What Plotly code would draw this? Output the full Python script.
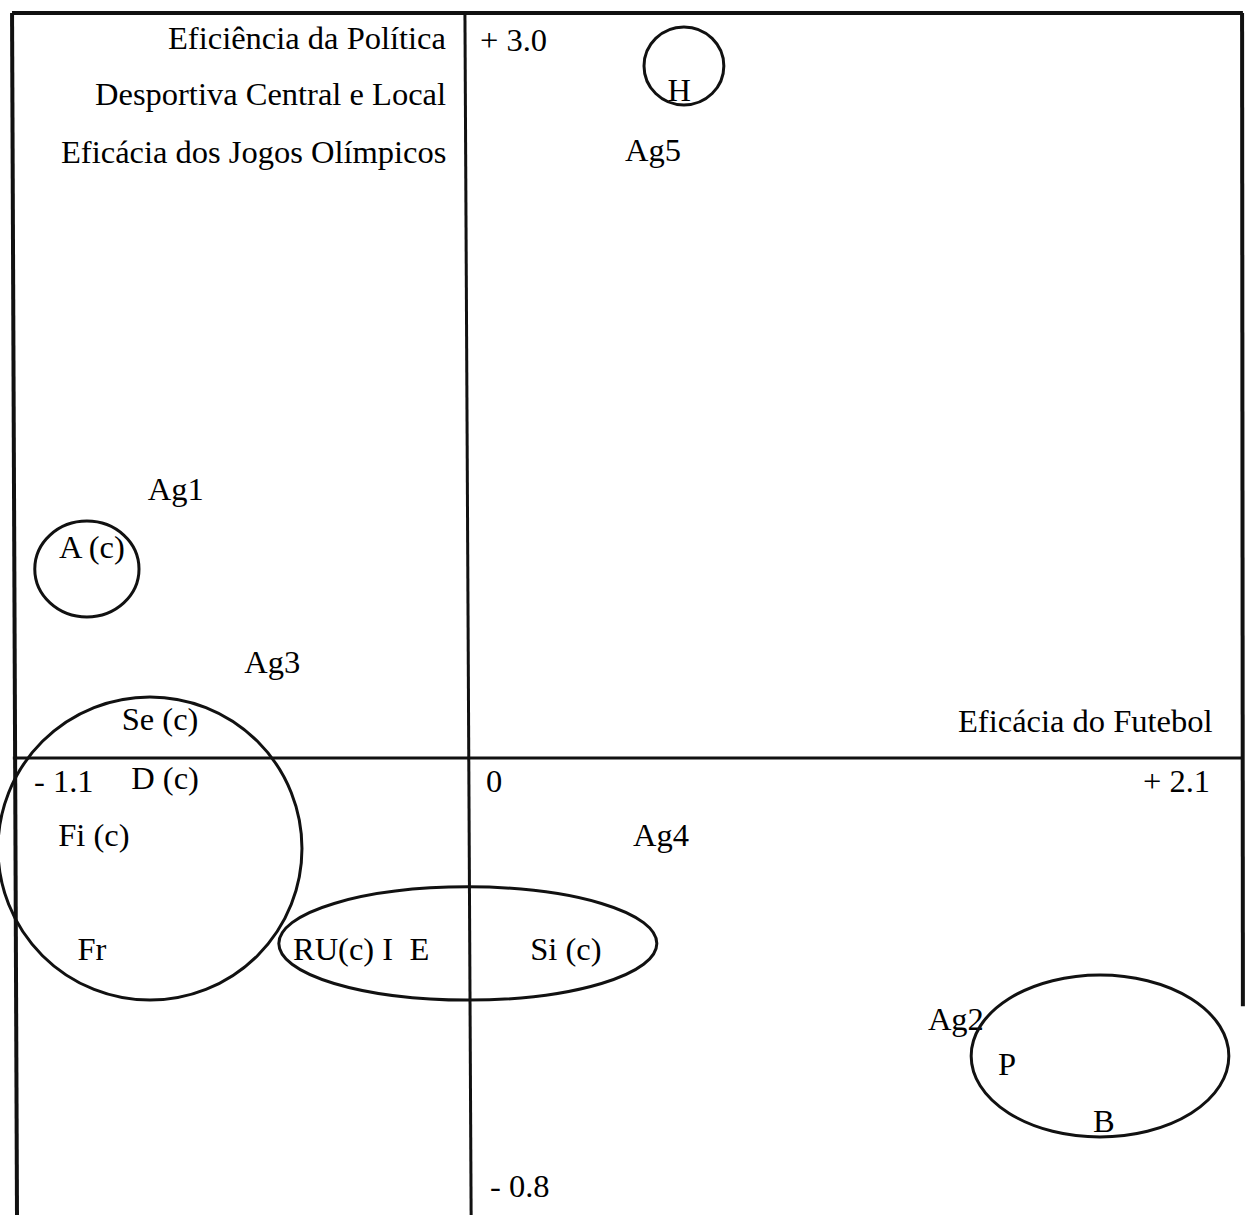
import plotly.graph_objects as go

# schematic positions in diagram units (axes cross at 0,0)
labels = ['Ag1', 'A (c)', 'Ag3', 'Se (c)', 'D (c)', 'Fi (c)', 'Fr',
          'RU(c) I\u00a0\u00a0E', 'Si (c)', 'Ag4', 'Ag2', 'P', 'B', 'H', 'Ag5']
label_x = [-0.704, -0.907, -0.471, -0.742, -0.730, -0.902, -0.907,
           -0.256, 0.239, 0.469, 1.182, 1.306, 1.540, 0.513, 0.450]
label_y = [1.071, 0.838, 0.374, 0.145, -0.093, -0.322, -0.781,
           -0.781, -0.781, -0.322, -1.063, -1.244, -1.474, 2.678, 2.436]

# groupings drawn as ellipses: x0, x1, y0, y1
group_x0 = [0.428, -1.045, -1.134, -0.455, 1.219]
group_x1 = [0.621, -0.793, -0.399, 0.459, 1.842]
group_y0 = [2.630, 0.568, -0.975, -0.975, -1.526]
group_y1 = [2.944, 0.954, 0.246, -0.519, -0.874]

# axis end labels
end_labels = ['- 1.1', '0', '+ 2.1', '+ 3.0', '- 0.8']
end_x = [-1.052, 0.040, 1.630, 0.027, 0.051]
end_y = [-0.093, -0.093, -0.093, 2.891, -1.724]

title_lines = ['Eficiência da Política', 'Desportiva Central e Local',
               'Eficácia dos Jogos Olímpicos']
title_y = [2.900, 2.675, 2.441]
x_title = 'Eficácia do Futebol'

X_RANGE = [-1.1291, 1.8859]
Y_RANGE = [-1.8405, 3.0527]
FONT = dict(family='Liberation Serif, Times New Roman, serif', size=32.5, color='#000')

fig = go.Figure()
fig.add_trace(go.Scatter(
    x=label_x, y=label_y, text=labels, mode='text',
    textposition='middle center', textfont=FONT, hoverinfo='skip'
))

shapes = []
for x0, x1, y0, y1 in zip(group_x0, group_x1, group_y0, group_y1):
    shapes.append(dict(type='circle', xref='x', yref='y', x0=x0, x1=x1, y0=y0, y1=y1,
                       line=dict(color='#111', width=3)))

# frame and axes
frame = dict(color='#111', width=4)
axis_line = dict(color='#111', width=3)
shapes += [
    dict(type='line', x0=-1.100, x1=-1.088, y0=3.0, y1=Y_RANGE[0], line=frame),
    dict(type='line', x0=-1.100, x1=1.876, y0=3.0, y1=3.0, line=frame),
    dict(type='line', x0=1.874, x1=1.876, y0=3.0, y1=-1.0, line=frame),
    dict(type='line', x0=-1.098, x1=1.876, y0=0, y1=0, line=axis_line),
    dict(type='line', x0=-0.005, x1=0.010, y0=3.0, y1=Y_RANGE[0], line=axis_line),
]

annotations = []
for t, x, y in zip(end_labels, end_x, end_y):
    annotations.append(dict(x=x, y=y, text=t, showarrow=False, xanchor='left',
                            yanchor='middle', font=FONT))
for t, y in zip(title_lines, title_y):
    annotations.append(dict(x=-0.045, y=y, text=t, showarrow=False, xanchor='right',
                            yanchor='middle', font=FONT))
annotations.append(dict(x=1.808, y=0.149, text=x_title, showarrow=False,
                        xanchor='right', yanchor='middle', font=FONT))

fig.update_layout(
    width=1247, height=1215,
    margin=dict(l=0, r=0, t=0, b=0),
    plot_bgcolor='white', paper_bgcolor='white',
    showlegend=False, shapes=shapes, annotations=annotations,
    xaxis=dict(range=X_RANGE, visible=False, fixedrange=True),
    yaxis=dict(range=Y_RANGE, visible=False, fixedrange=True),
)

fig.write_html("out.html", config={'displayModeBar': False},
               post_script="document.body.style.margin='0';document.body.style.overflow='hidden';")
